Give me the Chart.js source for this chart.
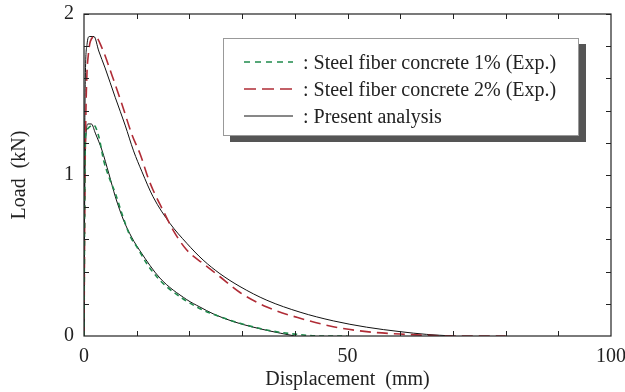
<!DOCTYPE html>
<html lang="en">
<head>
  <meta charset="UTF-8">
  <title>Load - displacement</title>
  <script src="https://cdn.jsdelivr.net/npm/chart.js@4.4.1/dist/chart.umd.min.js"></script>
  <style>
    body {
      margin: 0;
      background: #fff;
      font-family: "Liberation Serif", "DejaVu Serif", serif;
    }
    #wrap {
      position: relative;
      width: 625px;
      height: 392px;
    }
    #legendBox {
      position: absolute;
      left: 223px;
      top: 38px;
      width: 354px;
      height: 96px;
      border: 1px solid #999;
      background: #fff;
      box-shadow: 7px 6px 0 #555;
      font-size: 20px;
      color: #222;
    }
    .row {
      position: absolute;
      left: 19px;
      height: 24px;
      line-height: 24px;
      white-space: nowrap;
    }
    .row svg {
      position: absolute;
      left: 0;
      top: 7px;
    }
    .row span {
      position: absolute;
      left: 60px;
    }
  </style>
</head>
<body>
  <div id="wrap">
    <canvas id="chart" width="625" height="392"></canvas>
    <div id="legendBox">
      <div class="row" style="top:11px">
        <svg width="50" height="10"><line x1="1" y1="5" x2="50" y2="5" stroke="#1f8a4c" stroke-width="1.6" stroke-dasharray="6,5"/></svg>
        <span>: Steel fiber concrete 1% (Exp.)</span>
      </div>
      <div class="row" style="top:38px">
        <svg width="50" height="10"><line x1="1" y1="5" x2="50" y2="5" stroke="#b02c36" stroke-width="1.6" stroke-dasharray="12,6"/></svg>
        <span>: Steel fiber concrete 2% (Exp.)</span>
      </div>
      <div class="row" style="top:65px">
        <svg width="50" height="10"><line x1="1" y1="5" x2="50" y2="5" stroke="#111" stroke-width="1"/></svg>
        <span>: Present analysis</span>
      </div>
    </div>
  </div>

  <script>
    // displacement (mm) / load (kN)
    const exp1X = [0, 0.2, 0.38, 0.8, 1.83, 2.8, 3.74, 4.7, 5.95, 7.2, 8.8, 10, 11.9, 13.8, 15.7, 21.4, 25.8, 29.6, 34.7, 41, 45, 50];
    const exp1Y = [0, 1.14, 1.26, 1.29, 1.31, 1.24, 1.09, 0.99, 0.886, 0.76, 0.617, 0.555, 0.45, 0.368, 0.306, 0.18, 0.12, 0.079, 0.037, 0.008, 0, 0];

    const exp2X = [0, 0.2, 0.38, 0.57, 0.8, 1.2, 2.15, 3.4, 5.3, 7.2, 9.1, 10.7, 12.3, 13.1, 15, 16.9, 19.5, 22.6, 25.8, 29.6, 34.7, 41, 47.3, 53.6, 60, 65, 70, 80];
    const exp2Y = [0, 1.0, 1.42, 1.64, 1.74, 1.83, 1.86, 1.79, 1.62, 1.44, 1.25, 1.126, 0.97, 0.907, 0.78, 0.658, 0.534, 0.45, 0.368, 0.27, 0.18, 0.11, 0.058, 0.027, 0.012, 0.004, 0, 0];

    const ana1X = [0, 0.1, 0.3, 0.76, 1.4, 2.15, 3.4, 4.7, 5.95, 7.5, 9.1, 10.6, 14.4, 19.5, 22, 24.5, 28.3, 34.7, 40];
    const ana1Y = [0, 0.7, 1.2, 1.317, 1.317, 1.26, 1.155, 1.01, 0.865, 0.72, 0.61, 0.53, 0.36, 0.226, 0.18, 0.138, 0.09, 0.035, 0];

    const ana2X = [0, 0.1, 0.25, 0.57, 1.0, 1.9, 2.8, 4.0, 5.95, 7.8, 9.4, 11, 13.1, 16.3, 19.5, 22.6, 25.8, 29.6, 34.7, 41, 47.3, 53.6, 60, 65, 70];
    const ana2Y = [0, 1.0, 1.6, 1.81, 1.86, 1.86, 1.77, 1.665, 1.48, 1.31, 1.15, 1.02, 0.865, 0.70, 0.576, 0.472, 0.387, 0.307, 0.222, 0.148, 0.094, 0.055, 0.027, 0.01, 0];

    const xLabels = [0, 50, 100];
    const yLabels = [0, 1, 2];

    const toPoints = (xs, ys) => xs.map((x, i) => ({ x: x, y: ys[i] }));

    // frame + inward ticks on all four sides
    const framePlugin = {
      id: 'frame',
      afterDraw(chart) {
        const { ctx, chartArea: a, scales } = chart;
        ctx.save();
        ctx.strokeStyle = '#222';
        ctx.lineWidth = 1.2;
        ctx.strokeRect(a.left, a.top, a.right - a.left, a.bottom - a.top);
        ctx.lineWidth = 1;
        const len = 5;
        for (let v = 10; v < 100; v += 10) {
          const px = Math.round(scales.x.getPixelForValue(v)) + 0.5;
          ctx.beginPath();
          ctx.moveTo(px, a.bottom); ctx.lineTo(px, a.bottom - len);
          ctx.moveTo(px, a.top); ctx.lineTo(px, a.top + len);
          ctx.stroke();
        }
        for (let v = 0.2; v < 2; v += 0.2) {
          const py = Math.round(scales.y.getPixelForValue(v)) + 0.5;
          ctx.beginPath();
          ctx.moveTo(a.left, py); ctx.lineTo(a.left + len, py);
          ctx.moveTo(a.right, py); ctx.lineTo(a.right - len, py);
          ctx.stroke();
        }
        ctx.restore();
      }
    };

    const serif = '"Liberation Serif", "DejaVu Serif", serif';

    new Chart(document.getElementById('chart'), {
      type: 'scatter',
      data: {
        datasets: [
          {
            label: 'Steel fiber concrete 1% (Exp.)',
            data: toPoints(exp1X, exp1Y),
            borderColor: '#1f8a4c',
            borderWidth: 1.6,
            borderDash: [5, 4]
          },
          {
            label: 'Steel fiber concrete 2% (Exp.)',
            data: toPoints(exp2X, exp2Y),
            borderColor: '#b02c36',
            borderWidth: 1.6,
            borderDash: [11, 6]
          },
          {
            label: 'Present analysis',
            data: toPoints(ana1X, ana1Y),
            borderColor: '#111',
            borderWidth: 1
          },
          {
            label: 'Present analysis 2%',
            data: toPoints(ana2X, ana2Y),
            borderColor: '#111',
            borderWidth: 1
          }
        ]
      },
      options: {
        responsive: false,
        animation: false,
        showLine: true,
        elements: {
          point: { radius: 0 },
          line: { cubicInterpolationMode: 'monotone', fill: false }
        },
        layout: { padding: { left: 0, right: 14, top: 14, bottom: 0 } },
        plugins: {
          legend: { display: false },
          tooltip: { enabled: false }
        },
        scales: {
          x: {
            type: 'linear',
            min: 0,
            max: 100,
            afterBuildTicks: (s) => { s.ticks = xLabels.map(v => ({ value: v })); },
            afterFit: (s) => { s.height = 56; s.paddingLeft = 0; s.paddingRight = 0; },
            grid: { display: false, drawTicks: false },
            border: { display: false },
            ticks: {
              padding: 9,
              color: '#222',
              font: { family: serif, size: 20 }
            },
            title: {
              display: true,
              text: 'Displacement  (mm)',
              color: '#222',
              font: { family: serif, size: 20 },
              padding: { top: 2, bottom: 0 }
            }
          },
          y: {
            type: 'linear',
            min: 0,
            max: 2,
            afterBuildTicks: (s) => { s.ticks = yLabels.map(v => ({ value: v })); },
            afterFit: (s) => { s.width = 84; s.paddingTop = 0; s.paddingBottom = 0; },
            grid: { display: false, drawTicks: false },
            border: { display: false },
            ticks: {
              padding: 10,
              color: '#222',
              font: { family: serif, size: 20 }
            },
            title: {
              display: true,
              text: 'Load  (kN)',
              color: '#222',
              font: { family: serif, size: 20 },
              padding: { top: 8, bottom: 0 }
            }
          }
        }
      },
      plugins: [framePlugin]
    });
  </script>
</body>
</html>
